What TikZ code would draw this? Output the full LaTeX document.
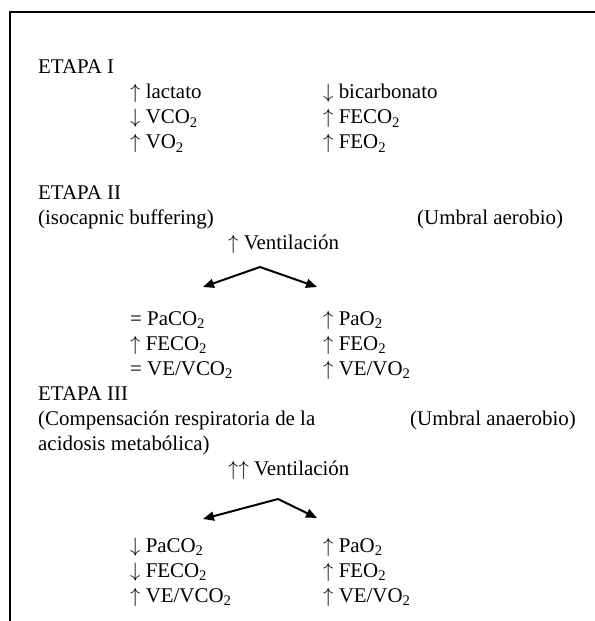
\documentclass[tikz,border=0pt]{standalone}
\usepackage{fontspec}
\setmainfont{Liberation Serif}
\usetikzlibrary{arrows.meta}
\newcommand{\sub}[1]{\textsubscript{#1}}
\newcommand{\up}{\ensuremath{\uparrow}}
\newcommand{\dn}{\ensuremath{\downarrow}}
\begin{document}
\begin{tikzpicture}[x=1bp,y=-1bp,
  txt/.style={anchor=base west,inner sep=0pt,font=\fontsize{21}{25}\selectfont},
  link/.style={line width=2bp,-{Triangle[length=11bp,width=9bp]}},
  frame/.style={line width=2bp}]
\useasboundingbox (0,0) rectangle (595,621);
% open frame: left and top edges
\draw[frame] (10,621) -- (10,12) -- (595,12);

% ---- Etapa I
\node[txt] (e1)   at (38,74)  {ETAPA I};
\node[txt] (lac)  at (130,99)  {\up{} lactato};
\node[txt] (vco)  at (130,124) {\dn{} VCO\sub{2}};
\node[txt] (vo)   at (130,149) {\up{} VO\sub{2}};
\node[txt] (bic)  at (323,99)  {\dn{} bicarbonato};
\node[txt] (feco) at (323,124) {\up{} FECO\sub{2}};
\node[txt] (feo)  at (323,149) {\up{} FEO\sub{2}};

% ---- Etapa II
\node[txt] (e2)   at (38,199)  {ETAPA II};
\node[txt] (iso)  at (38,224)  {(isocapnic buffering)};
\node[txt] (uae)  at (417,224) {(Umbral aerobio)};
\node[txt] (ven2) at (228,249) {\up{} Ventilación};
\coordinate (top2) at (260,267);
\coordinate (l2) at (203,287);
\coordinate (r2) at (317,287);
\draw[link] (top2) -- (l2);
\draw[link] (top2) -- (r2);
\node[txt] (a1) at (130,325) {= PaCO\sub{2}};
\node[txt] (a2) at (130,350) {\up{} FECO\sub{2}};
\node[txt] (a3) at (130,375) {= VE/VCO\sub{2}};
\node[txt] (b1) at (323,325) {\up{} PaO\sub{2}};
\node[txt] (b2) at (323,350) {\up{} FEO\sub{2}};
\node[txt] (b3) at (323,375) {\up{} VE/VO\sub{2}};

% ---- Etapa III
\node[txt] (e3)   at (38,400)  {ETAPA III};
\node[txt] (comp) at (38,425)  {(Compensación respiratoria de la};
\node[txt] (acid) at (38,450)  {acidosis metabólica)};
\node[txt] (uan)  at (410,425) {(Umbral anaerobio)};
\node[txt] (ven3) at (228,475) {\up\up{} Ventilación};
\coordinate (top3) at (278,499);
\coordinate (l3) at (203,519);
\coordinate (r3) at (317,518);
\draw[link] (top3) -- (l3);
\draw[link] (top3) -- (r3);
\node[txt] (c1) at (130,552) {\dn{} PaCO\sub{2}};
\node[txt] (c2) at (130,577) {\dn{} FECO\sub{2}};
\node[txt] (c3) at (130,602) {\up{} VE/VCO\sub{2}};
\node[txt] (d1) at (323,552) {\up{} PaO\sub{2}};
\node[txt] (d2) at (323,577) {\up{} FEO\sub{2}};
\node[txt] (d3) at (323,602) {\up{} VE/VO\sub{2}};
\end{tikzpicture}
\end{document}
